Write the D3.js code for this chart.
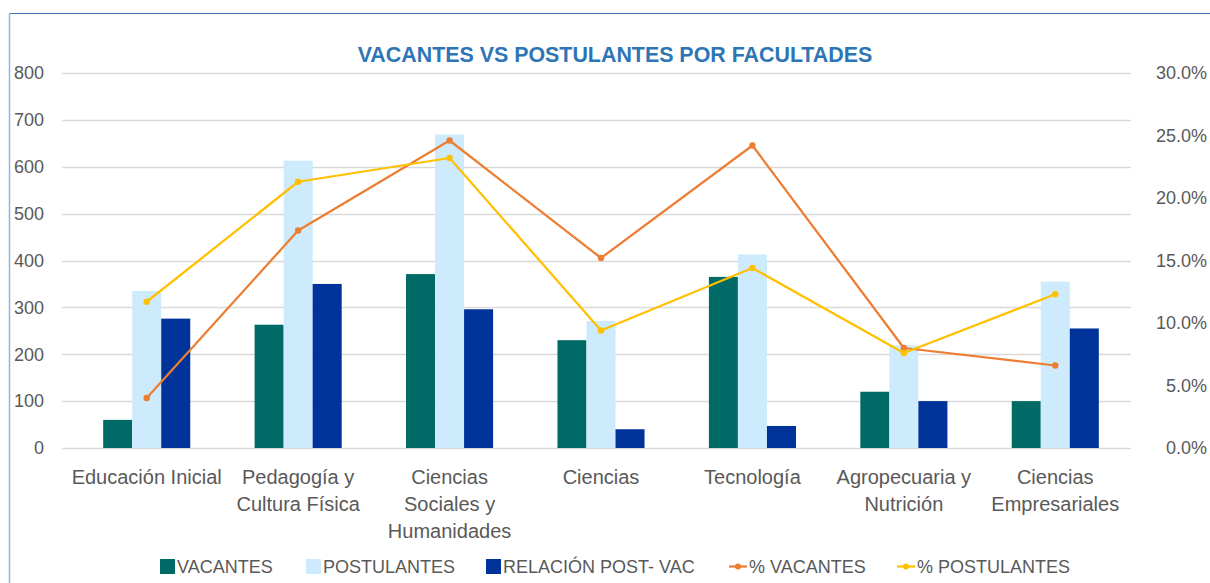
<!DOCTYPE html>
<html>
<head>
<meta charset="utf-8">
<script src="https://cdn.jsdelivr.net/npm/d3@7"></script>
<style>
  body { margin: 0; background: #fff; }
  svg { display: block; font-family: "Liberation Sans", Arial, sans-serif; }
</style>
</head>
<body>
<svg id="chart" width="1210" height="583"></svg>
<script>
const categories = [
  'Educación Inicial',
  'Pedagogía y\nCultura Física',
  'Ciencias\nSociales y\nHumanidades',
  'Ciencias',
  'Tecnología',
  'Agropecuaria y\nNutrición',
  'Ciencias\nEmpresariales',
];
const vacantes = [60, 263, 371, 230, 365, 120, 100];
const postulantes = [335, 613, 669, 271, 413, 219, 355];
const relacion = [276, 350, 296, 40, 47, 100, 255];
const pctVacantes = [0.040, 0.174, 0.246, 0.152, 0.242, 0.080, 0.066];
const pctPostulantes = [0.117, 0.213, 0.232, 0.094, 0.144, 0.076, 0.123];
const leftTicks = [0, 100, 200, 300, 400, 500, 600, 700, 800];
const rightTicks = [0, 0.05, 0.10, 0.15, 0.20, 0.25, 0.30];

const barSeries = [
  { name: 'VACANTES', values: vacantes, color: '#006b66' },
  { name: 'POSTULANTES', values: postulantes, color: '#cdebfc' },
  { name: 'RELACIÓN POST- VAC', values: relacion, color: '#003399' },
];
const lineSeries = [
  { name: '% VACANTES', values: pctVacantes, color: '#ed7d31' },
  { name: '% POSTULANTES', values: pctPostulantes, color: '#ffc000' },
];

const svg = d3.select('#chart');
const plot = { left: 71, right: 1131, top: 73, bottom: 448 };

// chart frame (only top and left edges are visible in the window)
svg.append('line').attr('x1', 9.5).attr('x2', 1210).attr('y1', 13.5).attr('y2', 13.5)
  .attr('stroke', '#3a73b4').attr('stroke-width', 1);
svg.append('line').attr('x1', 9.5).attr('x2', 9.5).attr('y1', 13.5).attr('y2', 583)
  .attr('stroke', '#8fb6e2').attr('stroke-width', 1.5);

const x0 = d3.scaleBand()
  .domain(d3.range(categories.length))
  .range([plot.left, plot.right])
  .paddingInner(0.425)
  .paddingOuter(0.2125);
const x1 = d3.scaleBand()
  .domain(barSeries.map((s) => s.name))
  .range([0, x0.bandwidth()]);
const yLeft = d3.scaleLinear().domain([0, 800]).range([plot.bottom, plot.top]);
const yRight = d3.scaleLinear().domain([0, 0.30]).range([plot.bottom, plot.top]);

// gridlines
svg.append('g')
  .selectAll('line')
  .data(leftTicks)
  .join('line')
  .attr('x1', 62)
  .attr('x2', plot.right)
  .attr('y1', (d) => Math.round(yLeft(d)) + 0.5)
  .attr('y2', (d) => Math.round(yLeft(d)) + 0.5)
  .attr('stroke', '#d9d9d9')
  .attr('stroke-width', 1.3);

// left axis
const leftAxis = svg.append('g')
  .attr('transform', 'translate(44,0)')
  .call(d3.axisLeft(yLeft).tickValues(leftTicks).tickSize(0).tickPadding(0));
leftAxis.select('.domain').remove();
leftAxis.selectAll('text')
  .attr('font-size', 18)
  .attr('font-family', '"Liberation Sans", Arial, sans-serif')
  .attr('fill', '#595959');

// right axis
const rightAxis = svg.append('g')
  .attr('transform', 'translate(1207,0)')
  .call(d3.axisLeft(yRight).tickValues(rightTicks).tickFormat(d3.format('.1%')).tickSize(0).tickPadding(0));
rightAxis.select('.domain').remove();
rightAxis.selectAll('text')
  .attr('font-size', 18)
  .attr('font-family', '"Liberation Sans", Arial, sans-serif')
  .attr('fill', '#595959');

// bars
const groups = svg.append('g')
  .selectAll('g')
  .data(categories.map((c, i) => i))
  .join('g')
  .attr('transform', (i) => `translate(${x0(i)},0)`);
groups.selectAll('rect')
  .data((i) => barSeries.map((s) => ({ s, v: s.values[i] })))
  .join('rect')
  .attr('x', (d) => x1(d.s.name))
  .attr('y', (d) => yLeft(d.v))
  .attr('width', x1.bandwidth())
  .attr('height', (d) => yLeft(0) - yLeft(d.v))
  .attr('fill', (d) => d.s.color);

// lines with markers
const cx = (i) => x0(i) + x0.bandwidth() / 2;
const line = d3.line().x((d, i) => cx(i)).y((d) => yRight(d));
lineSeries.forEach((s) => {
  svg.append('path')
    .datum(s.values)
    .attr('d', line)
    .attr('fill', 'none')
    .attr('stroke', s.color)
    .attr('stroke-width', 2.25)
    .attr('stroke-linejoin', 'round');
  svg.append('g')
    .selectAll('circle')
    .data(s.values)
    .join('circle')
    .attr('cx', (d, i) => cx(i))
    .attr('cy', (d) => yRight(d))
    .attr('r', 3.2)
    .attr('fill', s.color);
});

// category labels
const catLabels = svg.append('g')
  .selectAll('text')
  .data(categories)
  .join('text')
  .attr('text-anchor', 'middle')
  .attr('font-size', 20)
  .attr('fill', '#595959');
catLabels.each(function (d, i) {
  d3.select(this).selectAll('tspan')
    .data(d.split('\n'))
    .join('tspan')
    .attr('x', cx(i))
    .attr('y', (t, j) => 484 + j * 27)
    .text((t) => t);
});

// title
svg.append('text')
  .attr('x', 615)
  .attr('y', 62)
  .attr('text-anchor', 'middle')
  .attr('font-size', 21.4)
  .attr('font-weight', 'bold')
  .attr('fill', '#2e75b6')
  .text('VACANTES VS POSTULANTES POR FACULTADES');

// legend
const legendItems = [
  { s: barSeries[0], x: 160, type: 'bar' },
  { s: barSeries[1], x: 306, type: 'bar' },
  { s: barSeries[2], x: 486, type: 'bar' },
  { s: lineSeries[0], x: 729, type: 'line' },
  { s: lineSeries[1], x: 897, type: 'line' },
];
const legend = svg.append('g').attr('transform', 'translate(0,566)');
legendItems.forEach((item) => {
  const g = legend.append('g').attr('transform', `translate(${item.x},0)`);
  if (item.type === 'bar') {
    g.append('rect').attr('x', 0).attr('y', -7).attr('width', 15).attr('height', 15)
      .attr('fill', item.s.color);
  } else {
    g.append('line').attr('x1', 0).attr('x2', 18).attr('y1', 0.5).attr('y2', 0.5)
      .attr('stroke', item.s.color).attr('stroke-width', 2.25);
    g.append('circle').attr('cx', 9).attr('cy', 0.5).attr('r', 3).attr('fill', item.s.color);
  }
  g.append('text')
    .attr('x', item.type === 'bar' ? 17 : 20)
    .attr('y', 7)
    .attr('font-size', 18)
    .attr('fill', '#595959')
    .text(item.s.name);
});
</script>
</body>
</html>
